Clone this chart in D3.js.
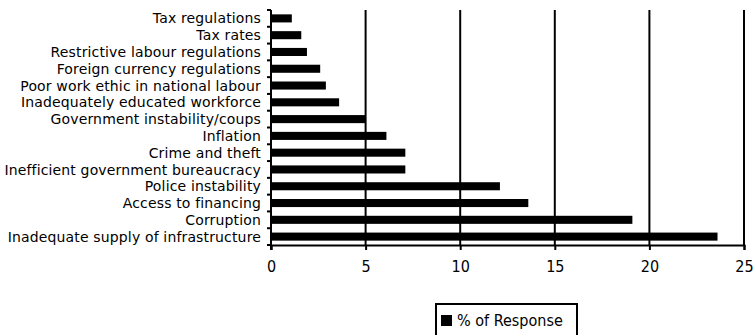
<!DOCTYPE html>
<html>
<head>
<meta charset="utf-8">
<script src="https://cdn.jsdelivr.net/npm/d3@7"></script>
<style>
  html, body { margin: 0; padding: 0; background: #fff; }
  svg { display: block; }
  text { font-family: "DejaVu Sans Condensed", "DejaVu Sans", Verdana, sans-serif; fill: #000; }
</style>
</head>
<body>
<svg id="chart" width="755" height="335"></svg>
<script>
// Obstacles to doing business, % of response (top to bottom)
const categories = [
  "Tax regulations",
  "Tax rates",
  "Restrictive labour regulations",
  "Foreign currency regulations",
  "Poor work ethic in national labour",
  "Inadequately educated workforce",
  "Government instability/coups",
  "Inflation",
  "Crime and theft",
  "Inefficient government bureaucracy",
  "Police instability",
  "Access to financing",
  "Corruption",
  "Inadequate supply of infrastructure"
];
const responseValues = [1.1, 1.6, 1.9, 2.6, 2.9, 3.6, 5.0, 6.1, 7.1, 7.1, 12.1, 13.6, 19.1, 23.6];
const xTicks = [0, 5, 10, 15, 20, 25];
const seriesName = "% of Response";

const FONT = "'DejaVu Sans Condensed', 'DejaVu Sans', Verdana, sans-serif";
const svg = d3.select("#chart");
const margin = { left: 271, right: 11, top: 10, bottom: 90 };
const W = 755, H = 335;

const x = d3.scaleLinear().domain([0, 25]).range([margin.left, W - margin.right]);
const y = d3.scaleBand().domain(categories).range([margin.top, H - margin.bottom]).paddingInner(0.52).paddingOuter(0.26);

// vertical gridlines
svg.append("g")
  .selectAll("line")
  .data(xTicks.slice(1))
  .join("line")
  .attr("x1", d => x(d)).attr("x2", d => x(d))
  .attr("y1", margin.top).attr("y2", H - margin.bottom)
  .attr("stroke", "#000").attr("stroke-width", 2);

// bars
svg.append("g")
  .selectAll("rect")
  .data(categories)
  .join("rect")
  .attr("x", x(0))
  .attr("y", d => y(d))
  .attr("width", (d, i) => x(responseValues[i]) - x(0))
  .attr("height", y.bandwidth())
  .attr("fill", "#000");

// x axis
const xAxis = svg.append("g")
  .attr("transform", `translate(0,${H - margin.bottom})`)
  .call(d3.axisBottom(x).tickValues(xTicks).tickSize(5).tickPadding(11));
xAxis.select(".domain").attr("stroke-width", 2);
xAxis.selectAll(".tick line").attr("stroke-width", 2);
xAxis.selectAll("text").style("font-size", "16px").style("font-family", FONT);

// y axis: ticks sit on the band boundaries
const yAxisG = svg.append("g").attr("transform", `translate(${x(0)},0)`);
yAxisG.append("line")
  .attr("x1", 0).attr("x2", 0)
  .attr("y1", margin.top).attr("y2", H - margin.bottom + 5)
  .attr("stroke", "#000").attr("stroke-width", 2);
const boundaries = d3.range(categories.length + 1).map(i => margin.top + i * (H - margin.top - margin.bottom) / categories.length);
yAxisG.selectAll("line.tk")
  .data(boundaries)
  .join("line")
  .attr("class", "tk")
  .attr("x1", -4).attr("x2", 0)
  .attr("y1", d => d).attr("y2", d => d)
  .attr("stroke", "#000").attr("stroke-width", 2);
yAxisG.selectAll("text")
  .data(categories)
  .join("text")
  .attr("x", -10)
  .attr("y", d => y(d) + y.bandwidth() / 2)
  .attr("dy", "0.36em")
  .attr("text-anchor", "end")
  .style("font-family", "'DejaVu Sans', Verdana, sans-serif")
  .style("font-size", "14px")
  .style("letter-spacing", "0.15px")
  .text(d => d);

// legend
const lg = svg.append("g");
lg.append("rect")
  .attr("x", 436).attr("y", 304).attr("width", 141).attr("height", 40)
  .attr("fill", "#fff").attr("stroke", "#000").attr("stroke-width", 2);
lg.append("rect")
  .attr("x", 441).attr("y", 315).attr("width", 11).attr("height", 11)
  .attr("fill", "#000");
lg.append("text")
  .attr("x", 457).attr("y", 320).attr("dy", "0.35em")
  .style("font-size", "16px")
  .text(seriesName);
</script>
</body>
</html>
